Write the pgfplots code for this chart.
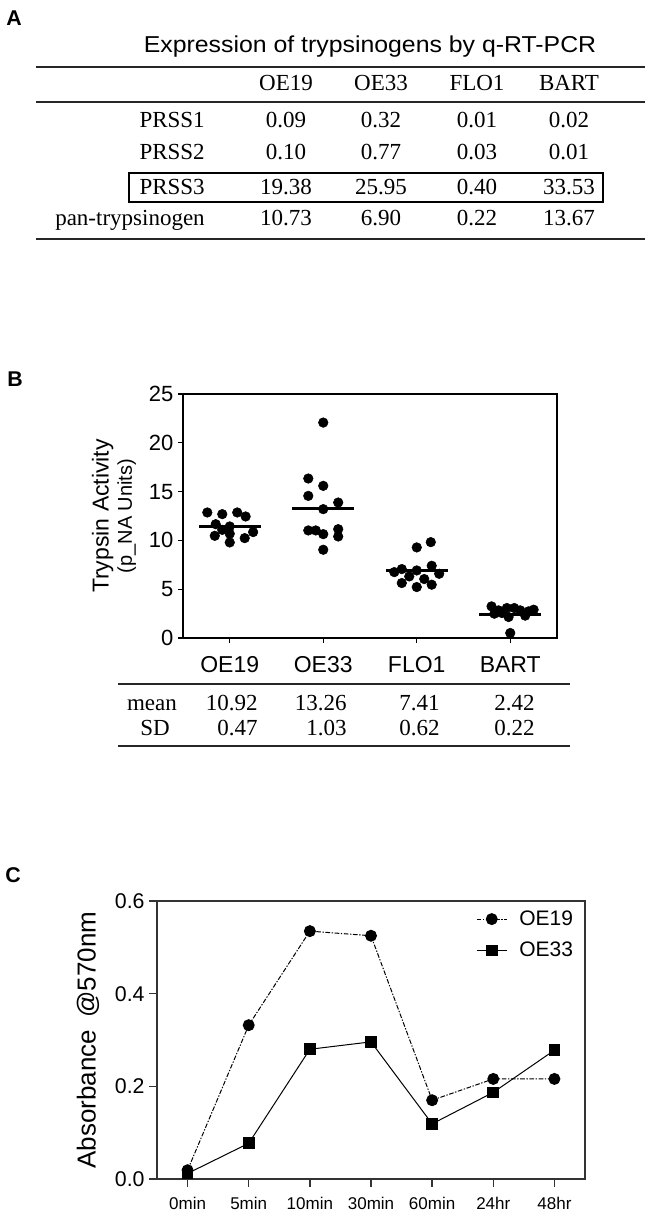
\documentclass[border=0pt]{standalone}
\usepackage{fontspec}
\setmainfont{Liberation Serif}
\setsansfont{Liberation Sans}
\newfontfamily\titlefont[FakeStretch=1.08]{Liberation Sans}
\usepackage{pgfplots}
\pgfplotsset{compat=1.18}
\newcommand\fs[1]{\fontsize{#1}{#1}\selectfont}
\begin{document}
\begin{tikzpicture}
\begin{scope}[x=0.75pt,y=0.75pt]
\path (0,0) rectangle (653,1216);
% ---------------- Panel A (table) ----------------
\node[font=\sffamily\bfseries\fs{16}] at (14,1216-18) {A};
\node[font=\titlefont\fs{17.25}] at (370,1216-47) {Expression of trypsinogens by q-RT-PCR};
\draw[line width=1.5pt, black!85] (36,1216-67) -- (645,1216-67);
\draw[line width=1.5pt, black!85] (36,1216-102) -- (645,1216-102);
\draw[line width=1.5pt, black!85] (36,1216-239) -- (645,1216-239);
\draw[line width=0.8pt] (129,1216-173) rectangle (603,1216-202);
\begin{scope}[every node/.style={font=\rmfamily\fs{17.25}, inner sep=0pt, anchor=base}]
\node at (286,1216-90.6) {OE19};
\node at (381,1216-90.6) {OE33};
\node at (477,1216-90.6) {FLO1};
\node at (569,1216-90.6) {BART};
\node[anchor=base east] at (205,1216-127.6) {PRSS1};
\node[anchor=base east] at (205,1216-159.6) {PRSS2};
\node[anchor=base east] at (205,1216-194.6) {PRSS3};
\node[anchor=base east] at (205,1216-225.6) {pan-trypsinogen};
\node at (286,1216-127.6) {0.09};  \node at (381,1216-127.6) {0.32};  \node at (477,1216-127.6) {0.01}; \node at (569,1216-127.6) {0.02};
\node at (286,1216-159.6) {0.10};  \node at (381,1216-159.6) {0.77};  \node at (477,1216-159.6) {0.03}; \node at (569,1216-159.6) {0.01};
\node at (286,1216-194.6) {19.38}; \node at (381,1216-194.6) {25.95}; \node at (477,1216-194.6) {0.40}; \node at (569,1216-194.6) {33.53};
\node at (286,1216-225.6) {10.73}; \node at (381,1216-225.6) {6.90};  \node at (477,1216-225.6) {0.22}; \node at (569,1216-225.6) {13.67};
\end{scope}
\node[font=\sffamily\bfseries\fs{16}] at (15,1216-379) {B};
% table under panel B
\draw[line width=1.5pt, black!85] (118,1216-684) -- (570,1216-684);
\draw[line width=1.5pt, black!85] (118,1216-746) -- (570,1216-746);
\begin{scope}[every node/.style={font=\rmfamily\fs{17.25}, inner sep=0pt, anchor=base east}]
\node[anchor=base] at (152,1216-710.6) {mean};
\node[anchor=base] at (155,1216-735.6) {SD};
\node at (258,1216-710.6) {10.92}; \node at (347,1216-710.6) {13.26}; \node at (440,1216-710.6) {7.41}; \node at (535,1216-710.6) {2.42};
\node at (258,1216-735.6) {0.47};  \node at (347,1216-735.6) {1.03};  \node at (440,1216-735.6) {0.62}; \node at (535,1216-735.6) {0.22};
\end{scope}
\node[font=\sffamily\bfseries\fs{16}] at (13,1216-875) {C};
\end{scope}
% ---------------- Panel B ----------------
\begin{axis}[
  at={(137.25pt,433.5pt)}, anchor=south west,
  scale only axis, width=280.5pt, height=183pt,
  xmin=-0.5, xmax=3.5, ymin=0, ymax=25,
  xtick={0,1,2,3}, xticklabels={OE19,OE33,FLO1,BART},
  ytick={0,5,10,15,20,25}, yticklabels={0,5,10,15,20,25},
  xtick pos=left, ytick pos=left,
  tick align=outside, major tick length=3.75pt,
  axis line style={line width=1pt, black},
  every tick/.style={line width=1pt, black},
  /pgf/number format/assume math mode=true,
  yticklabel style={font=\sffamily\fs{16.5}},
  xticklabel style={font=\sffamily\fs{17.25}},
  xticklabel shift=6.5pt,
  ylabel={{\fs{17.25}Trypsin Activity}\\[2pt]{\fs{15}(p\_NA Units)}},
  ylabel style={font=\sffamily, at={(axis description cs:-0.1845,0.5)}, anchor=center, align=center},
  clip=false,
]
\addplot[only marks, mark=*, mark size=3.6pt, black] coordinates {
 (-0.24,12.86) (-0.08,12.69) (0.08,12.86) (0.17,12.45) (-0.15,11.66) (0,11.43)
 (-0.08,11.08) (-0.16,10.47) (0,10.68) (0.16,10.23) (0.25,10.85) (0,9.79)};
\addplot[only marks, mark=*, mark size=3.6pt, black] coordinates {
 (1,22.07) (0.84,16.34) (1,15.59) (0.84,14.56) (1.16,13.88) (1,13.20)
 (0.84,11.02) (0.92,11.02) (1.16,11.15) (1,10.64) (1.16,10.40) (1,9.04)};
\addplot[only marks, mark=*, mark size=3.6pt, black] coordinates {
 (2.15,9.82) (2,9.28) (1.76,6.75) (1.84,7.06) (1.92,6.31) (2,6.92)
 (2.16,7.40) (2.24,6.58) (1.84,5.63) (2.08,6.04) (2.16,5.46) (2,5.22)};
\addplot[only marks, mark=*, mark size=3.6pt, black] coordinates {
 (2.8,3.24) (2.875,2.83) (2.964,3.07) (3.043,3.07) (3.107,2.83) (3.25,2.90)
 (2.83,2.49) (2.982,2.15) (3.16,2.29) (3,0.51) (3.196,2.73) (2.91,2.56)};
\addplot[line width=2pt, black] coordinates {(-0.33,11.43) (0.33,11.43)};
\addplot[line width=2pt, black] coordinates {(0.67,13.30) (1.33,13.30)};
\addplot[line width=2pt, black] coordinates {(1.67,6.92) (2.33,6.92)};
\addplot[line width=2pt, black] coordinates {(2.67,2.39) (3.33,2.39)};
\end{axis}
% ---------------- Panel C ----------------
\begin{axis}[
  at={(117.75pt,27.75pt)}, anchor=south west,
  scale only axis, width=321pt, height=208.5pt,
  xmin=-0.5, xmax=6.5, ymin=0, ymax=0.6,
  xtick={0,1,2,3,4,5,6}, xticklabels={0min,5min,10min,30min,60min,24hr,48hr},
  ytick={0,0.2,0.4,0.6}, yticklabels={0.0,0.2,0.4,0.6},
  xtick pos=left, ytick pos=left,
  tick align=outside, major tick length=5.8pt,
  axis line style={line width=1.1pt, black!80},
  every tick/.style={line width=1.1pt, black!80},
  /pgf/number format/assume math mode=true,
  yticklabel style={font=\sffamily\fs{16}},
  xticklabel style={font=\sffamily\fs{12.75}},
  xticklabel shift=4.5pt,
  ylabel={Absorbance\hspace{0.2em} @570nm},
  ylabel style={font=\sffamily\fs{19.5}, at={(axis description cs:-0.161,0.5)}, anchor=center},
  legend style={draw=none, fill=none, at={(0.985,0.985)}, anchor=north east,
     font=\sffamily\fs{15.75}, row sep=7pt, inner sep=2pt,
     /tikz/every odd column/.append style={column sep=7pt}},
  legend cell align=left,
  legend image code/.code={\draw[mark repeat=2,mark phase=2,#1] plot coordinates {(0pt,0pt) (11.25pt,0pt) (22.5pt,0pt)};},
  clip=false,
]
\addplot[black, line width=0.75pt, dash pattern=on 3.5pt off 1.2pt on 1pt off 1.2pt,
  mark=*, mark size=4.1pt, mark options={solid}] coordinates {
 (0,0.019) (1,0.332) (2,0.535) (3,0.525) (4,0.170) (5,0.216) (6,0.216)};
\addlegendentry{OE19}
\addplot[black, line width=0.75pt, mark=square*, mark size=4pt, mark options={solid}] coordinates {
 (0,0.012) (1,0.077) (2,0.280) (3,0.296) (4,0.119) (5,0.187) (6,0.278)};
\addlegendentry{OE33}
\end{axis}
\end{tikzpicture}
\end{document}
